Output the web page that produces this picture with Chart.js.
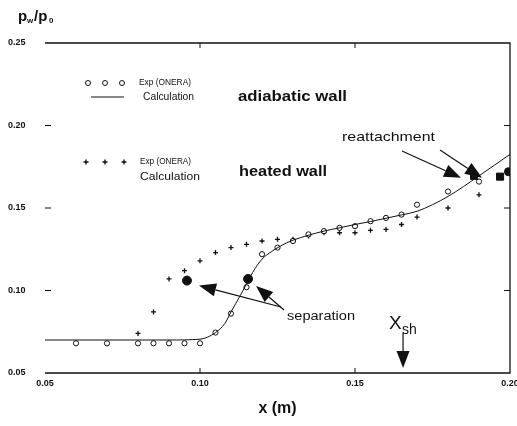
<!DOCTYPE html>
<html>
<head>
<meta charset="utf-8">
<script src="https://cdn.jsdelivr.net/npm/chart.js@4.4.0/dist/chart.umd.min.js"></script>
<style>
  html, body { margin: 0; padding: 0; background: #fff; }
  #wrap { width: 517px; height: 426px; }
</style>
</head>
<body>
<div id="wrap"><canvas id="chart" width="517" height="426"></canvas></div>
<script>
// experiment, adiabatic wall (open circles)
const xExpAdiabatic = [0.06, 0.07, 0.08, 0.085, 0.09, 0.095, 0.10, 0.105, 0.11, 0.115, 0.12, 0.125, 0.13, 0.135, 0.14, 0.145, 0.15, 0.155, 0.16, 0.165, 0.17, 0.18, 0.19];
const yExpAdiabatic = [0.068, 0.068, 0.068, 0.068, 0.068, 0.068, 0.068, 0.0745, 0.086, 0.102, 0.122, 0.126, 0.130, 0.134, 0.136, 0.138, 0.139, 0.142, 0.144, 0.146, 0.152, 0.160, 0.166];

// experiment, heated wall (crosses)
const xExpHeated = [0.08, 0.085, 0.09, 0.095, 0.10, 0.105, 0.11, 0.115, 0.12, 0.125, 0.13, 0.135, 0.14, 0.145, 0.15, 0.155, 0.16, 0.165, 0.17, 0.18, 0.19];
const yExpHeated = [0.074, 0.087, 0.107, 0.112, 0.118, 0.123, 0.126, 0.128, 0.130, 0.131, 0.131, 0.133, 0.135, 0.135, 0.135, 0.1365, 0.137, 0.140, 0.1445, 0.150, 0.158];

// calculation curve
const xCalc = [0.05, 0.07, 0.09, 0.10, 0.105, 0.108, 0.11, 0.113, 0.115, 0.117, 0.12, 0.123, 0.126, 0.13, 0.135, 0.14, 0.145, 0.15, 0.155, 0.16, 0.165, 0.17, 0.175, 0.18, 0.185, 0.19, 0.195, 0.20];
const yCalc = [0.070, 0.070, 0.070, 0.0705, 0.0745, 0.080, 0.087, 0.097, 0.104, 0.111, 0.119, 0.1235, 0.127, 0.1305, 0.1335, 0.136, 0.138, 0.140, 0.1418, 0.1438, 0.1458, 0.148, 0.152, 0.157, 0.163, 0.1695, 0.176, 0.1825];

// separation / reattachment markers
const xSeparation = [0.0958, 0.1155];
const ySeparation = [0.106, 0.107];
const xReattach = [0.1884, 0.1968];
const yReattach = [0.1695, 0.169];
const xEdgeDot = [0.1995];
const yEdgeDot = [0.172];
const xShock = 0.1655;

const xTicks = [0.05, 0.10, 0.15, 0.20];
const yTicks = [0.05, 0.10, 0.15, 0.20, 0.25];

const FONT = "'Liberation Sans', Arial, sans-serif";

function pts(xs, ys) {
  return xs.map((x, i) => ({x: x, y: ys[i]}));
}

// the original lettering is a wide gothic face, so stretch text to its width
function fitText(ctx, text, x, y, width) {
  const w = ctx.measureText(text).width;
  ctx.save();
  ctx.translate(x, y);
  ctx.scale(width / w, 1);
  ctx.fillText(text, 0, 0);
  ctx.restore();
}

function arrow(ctx, x1, y1, x2, y2, headLen, headW) {
  const ang = Math.atan2(y2 - y1, x2 - x1);
  const bx = x2 - headLen * Math.cos(ang);
  const by = y2 - headLen * Math.sin(ang);
  ctx.beginPath();
  ctx.moveTo(x1, y1);
  ctx.lineTo(bx, by);
  ctx.stroke();
  ctx.beginPath();
  ctx.moveTo(x2, y2);
  ctx.lineTo(bx + headW / 2 * Math.sin(ang), by - headW / 2 * Math.cos(ang));
  ctx.lineTo(bx - headW / 2 * Math.sin(ang), by + headW / 2 * Math.cos(ang));
  ctx.closePath();
  ctx.fill();
}

//frame, inward ticks, legend and annotations
const decor = {
  id: 'decor',
  afterDraw(chart) {
    const ctx = chart.ctx;
    const a = chart.chartArea;
    const xs = chart.scales.x, ys = chart.scales.y;
    ctx.save();
    ctx.strokeStyle = '#111';
    ctx.fillStyle = '#111';
    ctx.lineWidth = 1.3;
    ctx.beginPath();
    ctx.moveTo(a.left, a.top); ctx.lineTo(a.right, a.top);
    ctx.lineTo(a.right, a.bottom); ctx.lineTo(a.left, a.bottom);
    ctx.stroke();

    ctx.lineWidth = 1;
    [0.10, 0.15].forEach(v => {
      const px = xs.getPixelForValue(v);
      ctx.beginPath();
      ctx.moveTo(px, a.bottom); ctx.lineTo(px, a.bottom - 5);
      ctx.moveTo(px, a.top); ctx.lineTo(px, a.top + 5);
      ctx.stroke();
    });
    [0.10, 0.15, 0.20].forEach(v => {
      const py = ys.getPixelForValue(v);
      ctx.beginPath();
      ctx.moveTo(a.left, py); ctx.lineTo(a.left + 6, py);
      ctx.moveTo(a.right, py); ctx.lineTo(a.right - 6, py);
      ctx.stroke();
    });

    // legend
    ctx.lineWidth = 1;
    [88, 105, 122].forEach(x => {
      ctx.beginPath(); ctx.arc(x, 83, 2.5, 0, Math.PI * 2); ctx.stroke();
    });
    ctx.beginPath(); ctx.moveTo(91, 97); ctx.lineTo(124, 97); ctx.stroke();
    ctx.lineWidth = 1.4;
    [86, 105, 124].forEach(x => {
      ctx.beginPath();
      ctx.moveTo(x - 2.5, 162); ctx.lineTo(x + 2.5, 162);
      ctx.moveTo(x, 159.5); ctx.lineTo(x, 164.5);
      ctx.stroke();
    });
    ctx.textBaseline = 'middle';
    ctx.textAlign = 'left';
    ctx.font = '9px ' + FONT;
    fitText(ctx, 'Exp (ONERA)', 139, 83, 52);
    fitText(ctx, 'Exp (ONERA)', 140, 162, 51);
    ctx.font = '10px ' + FONT;
    fitText(ctx, 'Calculation', 143, 97, 51);
    ctx.font = '11px ' + FONT;
    fitText(ctx, 'Calculation', 140, 177, 60);

    ctx.font = 'bold 14px ' + FONT;
    fitText(ctx, 'adiabatic wall', 238, 97, 109);
    fitText(ctx, 'heated wall', 239, 172, 88);
    ctx.font = '13px ' + FONT;
    fitText(ctx, 'reattachment', 342, 137, 93);
    ctx.font = '12px ' + FONT;
    fitText(ctx, 'separation', 287, 317, 68);

    // axis label p_w/p_0
    ctx.textBaseline = 'alphabetic';
    ctx.font = 'bold 15px ' + FONT;
    ctx.fillText('p', 18, 21);
    ctx.font = 'bold 8px ' + FONT;
    ctx.fillText('w', 27, 23);
    ctx.font = 'bold 15px ' + FONT;
    ctx.fillText('/p', 34, 21);
    ctx.font = 'bold 8px ' + FONT;
    ctx.fillText('0', 49, 23);

    // X_sh marker
    const xsh = xs.getPixelForValue(xShock);
    ctx.font = '19px ' + FONT;
    ctx.fillText('X', xsh - 14, 329);
    ctx.font = '14px ' + FONT;
    ctx.fillText('sh', xsh - 1, 334);

    // arrows
    ctx.lineWidth = 1.2;
    const s1 = [xs.getPixelForValue(xSeparation[0]), ys.getPixelForValue(ySeparation[0])];
    const s2 = [xs.getPixelForValue(xSeparation[1]), ys.getPixelForValue(ySeparation[1])];
    arrow(ctx, 281, 307, s1[0] + 12, s1[1] + 5, 17, 13);
    arrow(ctx, 284, 310, s2[0] + 8, s2[1] + 7, 17, 13);
    const r1 = [xs.getPixelForValue(xReattach[0]), ys.getPixelForValue(yReattach[0])];
    arrow(ctx, 402, 151, r1[0] - 13, r1[1] + 2, 17, 13);
    arrow(ctx, 440, 150, r1[0] + 8, r1[1] + 2, 17, 13);
    arrow(ctx, xsh, 333, xsh, a.bottom - 5, 17, 13);
    ctx.restore();
  }
};

const chart = new Chart(document.getElementById('chart'), {
  type: 'scatter',
  data: {
    datasets: [
      {
        label: 'Calculation',
        data: pts(xCalc, yCalc),
        showLine: true,
        borderColor: '#111',
        borderWidth: 1,
        pointRadius: 0,
        cubicInterpolationMode: 'monotone',
      },
      {
        label: 'Exp (ONERA) adiabatic',
        data: pts(xExpAdiabatic, yExpAdiabatic),
        pointStyle: 'circle',
        pointRadius: 2.6,
        borderColor: '#111',
        backgroundColor: '#fff',
        borderWidth: 1,
      },
      {
        label: 'Exp (ONERA) heated',
        data: pts(xExpHeated, yExpHeated),
        pointStyle: 'cross',
        pointRadius: 2.5,
        borderColor: '#111',
        borderWidth: 1.3,
      },
      {
        label: 'separation',
        data: pts(xSeparation, ySeparation),
        pointStyle: 'circle',
        pointRadius: 4.5,
        backgroundColor: '#111',
        borderColor: '#111',
      },
      {
        label: 'reattachment',
        data: pts(xReattach, yReattach),
        pointStyle: 'rect',
        pointRadius: 5,
        backgroundColor: '#111',
        borderColor: '#111',
      },
      {
        label: 'edge',
        data: pts(xEdgeDot, yEdgeDot),
        pointStyle: 'circle',
        pointRadius: 4,
        backgroundColor: '#111',
        borderColor: '#111',
      },
    ],
  },
  options: {
    responsive: false,
    animation: false,
    devicePixelRatio: 1,
    layout: {padding: {left: 8, top: 43, right: 7, bottom: 0}},
    plugins: {legend: {display: false}, tooltip: {enabled: false}},
    scales: {
      x: {
        type: 'linear',
        min: 0.05,
        max: 0.20,
        afterBuildTicks: s => { s.ticks = xTicks.map(v => ({value: v})); },
        afterFit: s => { s.height = 53; s.paddingLeft = 0; s.paddingRight = 0; },
        grid: {display: false, drawTicks: false},
        border: {display: false},
        ticks: {
          color: '#111',
          padding: 5,
          maxRotation: 0,
          font: {family: FONT, size: 9, weight: 'bold'},
          callback: v => v.toFixed(2),
        },
        title: {
          display: true,
          text: 'x (m)',
          color: '#111',
          padding: {top: 0, bottom: 8},
          font: {family: FONT, size: 16, weight: 'bold'},
        },
      },
      y: {
        type: 'linear',
        min: 0.05,
        max: 0.25,
        afterBuildTicks: s => { s.ticks = yTicks.map(v => ({value: v})); },
        afterFit: s => { s.width = 37; s.paddingTop = 0; s.paddingBottom = 0; },
        grid: {display: false, drawTicks: false},
        border: {display: false},
        ticks: {
          color: '#111',
          crossAlign: 'far',
          font: {family: FONT, size: 9, weight: 'bold'},
          callback: v => v.toFixed(2),
        },
      },
    },
  },
  plugins: [decor],
});
</script>
</body>
</html>
